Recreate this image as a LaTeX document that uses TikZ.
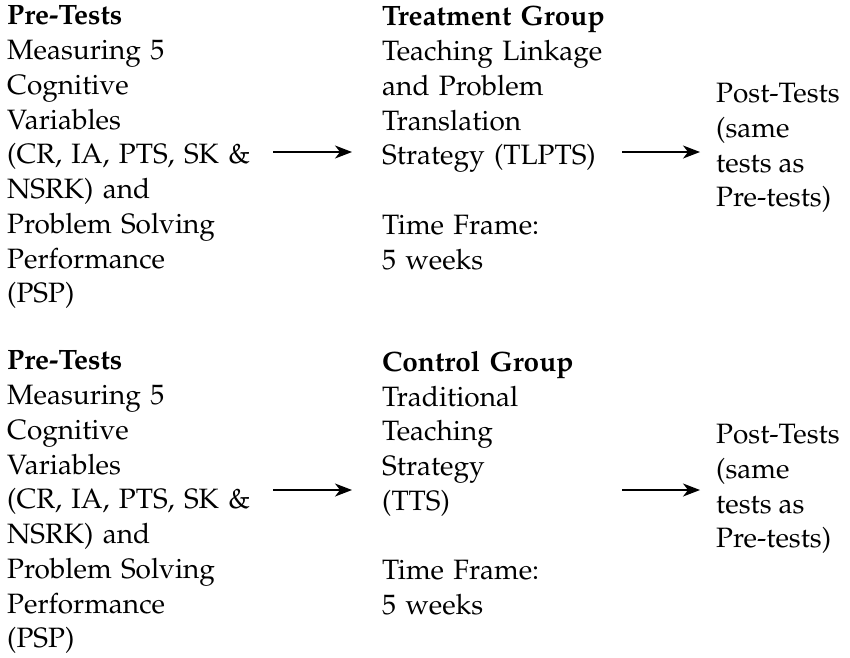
\documentclass[tikz,border=0pt]{standalone}
\usepackage[T1]{fontenc}
\usepackage{mathpazo}
\usetikzlibrary{arrows.meta}
\tikzset{
  txt/.style={anchor=north west, inner sep=0pt, align=left, font=\fontsize{28}{34.75}\selectfont},
  flow/.style={-{Stealth[length=17pt,width=13pt,inset=5pt]}, line width=1.2pt}
}
\begin{document}
\begin{tikzpicture}[x=1pt,y=1pt]
    \useasboundingbox (0,0) rectangle (850,-657);

    % Upper row
    \node [txt, text width=260pt] (pre1) at (7,-6) {\textbf{Pre-Tests}\\Measuring 5\\Cognitive\\Variables\\(CR, IA, PTS, SK \&\\NSRK) and\\Problem Solving\\Performance\\(PSP)};
    \node [txt, text width=240pt] (grp1) at (382,-6) {\textbf{Treatment Group}\\Teaching Linkage\\and Problem\\Translation\\Strategy (TLPTS)\\[34.75pt]Time Frame:\\5 weeks};
    \node [txt] (post1) at (716,-83) {Post-Tests\\(same\\tests as\\Pre-tests)};
    \coordinate (row1) at (0,-152);

    % Lower row
    \node [txt, text width=260pt] (pre2) at (7,-351) {\textbf{Pre-Tests}\\Measuring 5\\Cognitive\\Variables\\(CR, IA, PTS, SK \&\\NSRK) and\\Problem Solving\\Performance\\(PSP)};
    \node [txt, text width=240pt] (grp2) at (382,-351) {\textbf{Control Group}\\Traditional\\Teaching\\Strategy\\(TTS)\\[34.75pt]Time Frame:\\5 weeks};
    \node [txt] (post2) at (716,-424) {Post-Tests\\(same\\tests as\\Pre-tests)};
    \coordinate (row2) at (0,-490);

    % Arrows
    \draw [flow, shorten <=6pt, shorten >=30pt] (pre1.east |- row1) -- (grp1.west |- row1);
    \draw [flow, shorten <=6pt, shorten >=30pt] (pre2.east |- row2) -- (grp2.west |- row2);
    \draw [flow, shorten >=16pt] (grp1.east |- row1) -- (post1.west |- row1);
    \draw [flow, shorten >=16pt] (grp2.east |- row2) -- (post2.west |- row2);
\end{tikzpicture}
\end{document}
